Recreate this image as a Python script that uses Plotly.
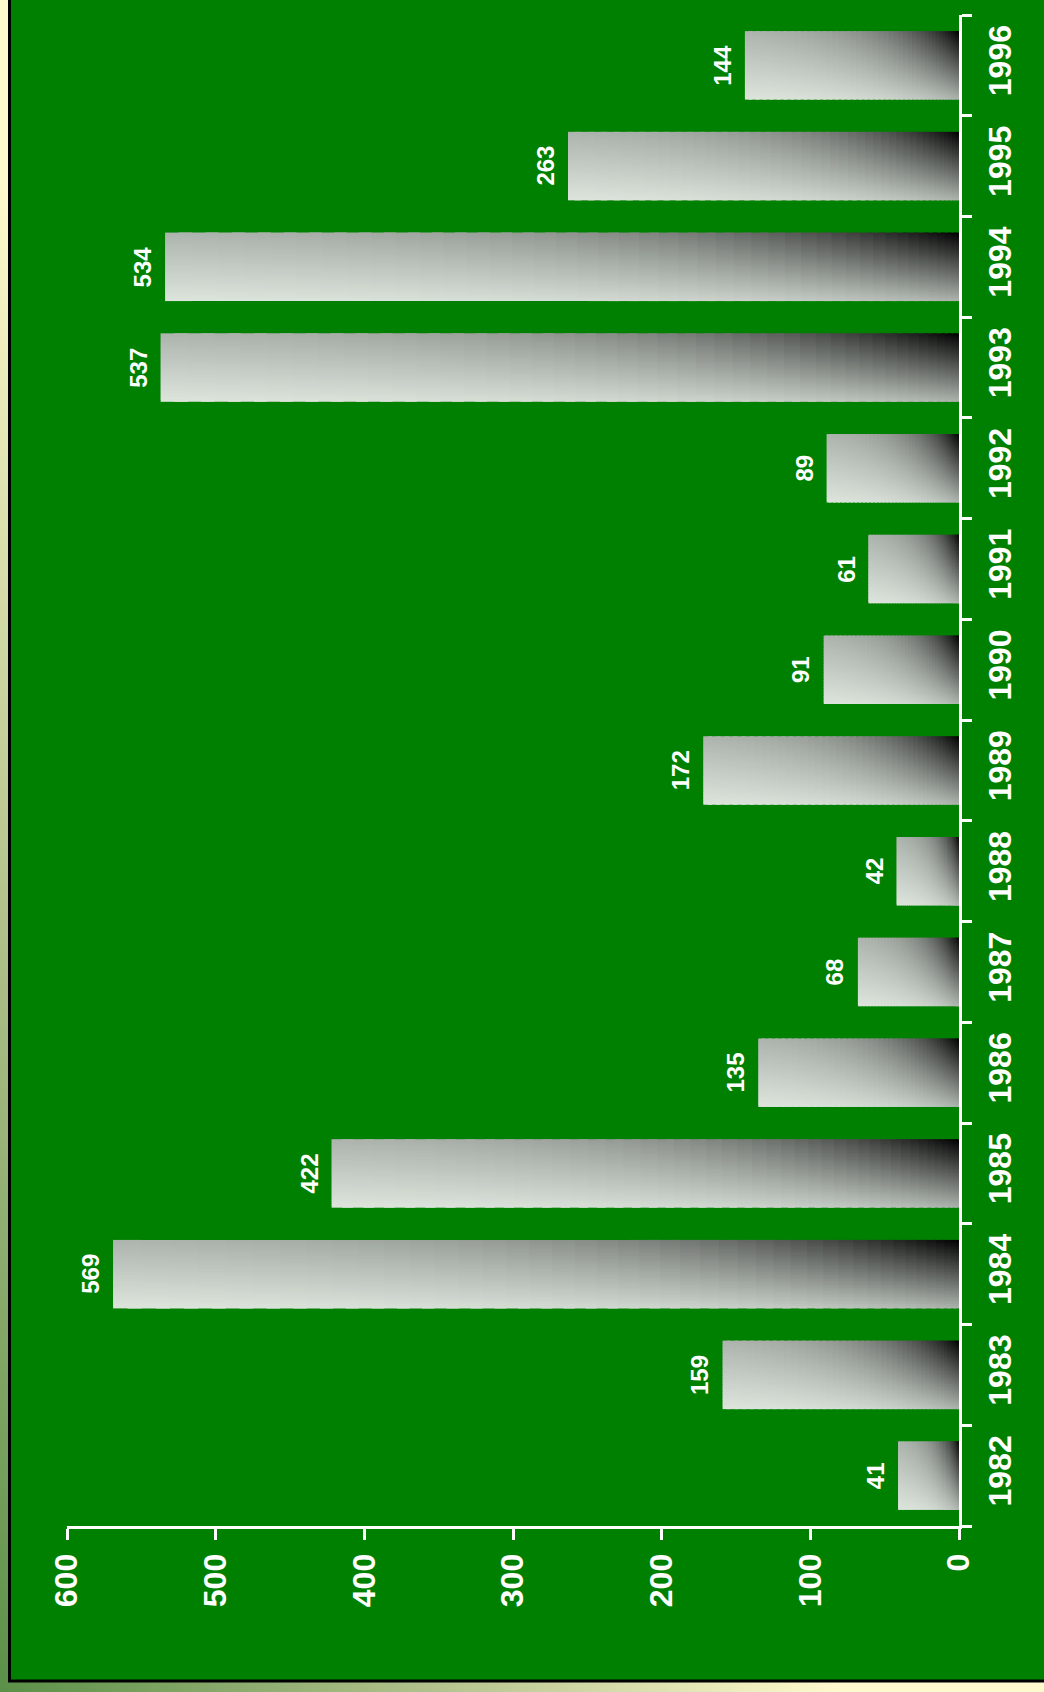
import base64
import math
import plotly.graph_objects as go

# Annual totals, 1982-1996
years = ["1982", "1983", "1984", "1985", "1986", "1987", "1988", "1989",
         "1990", "1991", "1992", "1993", "1994", "1995", "1996"]
values = [41, 159, 569, 422, 135, 68, 42, 172, 91, 61, 89, 537, 534, 263, 144]
value_ticks = [0, 100, 200, 300, 400, 500, 600]

FONT = "Arial, 'Liberation Sans', sans-serif"
W, H = 1044, 1692
ML, MR, MT, MB = 67, 85, 15, 166
PW, PH = W - ML - MR, H - MT - MB

BAR_W = 0.68     # bar thickness in category units
K = 30           # shading slices across the bar
M = 44           # shading slices along the bar


def px(x):
    return (x - ML) / PW


def py(y):
    return (H - MB - y) / PH


def shade(u, s):
    """Colour for a point of a bar: u along the bar from the zero end,
    s across it from the top edge (both 0..1). Darkest at the top corner
    next to the axis, fading towards the far lower corner."""
    g_u = 0.24 + 0.76 * math.exp(-u / 0.32)
    h_s = 1.0 - 0.72 * s
    lum = 0.97 * (1.0 - g_u * h_s)
    g = int(round(lum * 255))
    rb = int(round(lum * 246))
    return f"rgb({rb},{g},{rb})"


# Slice edges along the bar, denser near the axis where the shading changes fast
u_edges = [(j / M) ** 1.5 for j in range(M + 1)]

# Shaded bars: every bar is built from a grid of small cells whose
# extent is derived from its value.
cell_y, cell_x, cell_base, cell_off, cell_w, cell_col = [], [], [], [], [], []
for yr, v in zip(years, values):
    for j in range(M):
        u0, u1 = u_edges[j], u_edges[j + 1]
        u2 = u_edges[j + 2] if j + 2 <= M else u1
        u_end = u1 + 0.5 * (u2 - u1)
        for k in range(K):
            s = 1.0 - (k + 0.5) / K
            cell_y.append(yr)
            cell_base.append(v * u0)
            cell_x.append(v * (u_end - u0))
            cell_off.append(-BAR_W / 2 + k * BAR_W / K)
            cell_w.append(BAR_W / K * (1.5 if k < K - 1 else 1.0))
            cell_col.append(shade(0.5 * (u0 + u1), s))

fig = go.Figure()
fig.add_trace(go.Bar(
    orientation="h", y=cell_y, x=cell_x, base=cell_base,
    offset=cell_off, width=cell_w,
    marker=dict(color=cell_col, line=dict(width=0)),
    hoverinfo="skip", showlegend=False,
))
# Full bars (transparent) for hover
fig.add_trace(go.Bar(
    orientation="h", y=years, x=values, width=BAR_W,
    marker=dict(color="rgba(0,0,0,0)", line=dict(width=0)),
    showlegend=False,
    hovertemplate="%{y}: %{x}<extra></extra>",
))

# Value labels just beyond the end of each bar (y given as category index)
annotations = [
    dict(x=v, y=i, xref="x", yref="y", text=str(v), showarrow=False,
         textangle=-90, xanchor="right", yanchor="middle", xshift=-7,
         font=dict(family=FONT, size=24, color="white", weight="bold"))
    for i, v in enumerate(values)
]

# Backdrop: shaded frame behind a green panel with a black edge
svg = (
    "<svg xmlns='http://www.w3.org/2000/svg' width='1044' height='1692' "
    "viewBox='0 0 1044 1692' preserveAspectRatio='none'>"
    "<defs><linearGradient id='g' gradientUnits='userSpaceOnUse' "
    "x1='0' y1='1692' x2='643' y2='1336'>"
    "<stop offset='0' stop-color='#5a9048'/>"
    "<stop offset='0.5' stop-color='#b0c08a'/>"
    "<stop offset='1' stop-color='#fffacd'/>"
    "</linearGradient></defs>"
    "<rect width='1044' height='1692' fill='url(#g)'/></svg>"
)
svg_uri = "data:image/svg+xml;base64," + base64.b64encode(svg.encode()).decode()

fig.update_layout(
    width=W, height=H,
    margin=dict(l=ML, r=MR, t=MT, b=MB, pad=0, autoexpand=False),
    paper_bgcolor="#008000",
    plot_bgcolor="rgba(0,0,0,0)",
    barmode="overlay",
    font=dict(family=FONT, color="white"),
    annotations=annotations,
    images=[dict(
        source=svg_uri, xref="paper", yref="paper",
        x=px(0), y=py(0), sizex=W / PW, sizey=H / PH,
        xanchor="left", yanchor="top", sizing="stretch", layer="below",
    )],
    shapes=[dict(
        type="rect", xref="paper", yref="paper",
        x0=px(9.5), x1=px(1080), y0=py(1681), y1=py(-30),
        fillcolor="#008000", line=dict(color="black", width=3), layer="below",
    )],
    xaxis=dict(
        range=[600, 0], tickvals=value_ticks, ticktext=[str(t) for t in value_ticks],
        showgrid=False, zeroline=False,
        showline=True, linecolor="white", linewidth=3,
        ticks="outside", ticklen=11, tickwidth=3, tickcolor="white",
        tickangle=-90, ticklabelstandoff=1,
        tickfont=dict(family=FONT, size=32, color="white", weight="bold"),
        fixedrange=True, automargin=False,
    ),
    yaxis=dict(
        type="category", categoryorder="array", categoryarray=years,
        range=[-0.5, len(years) - 0.5],
        side="right", showgrid=False, zeroline=False,
        showline=True, linecolor="white", linewidth=3,
        ticks="outside", ticklen=10, tickwidth=3, tickcolor="white",
        tickson="boundaries", tickangle=-90, ticklabelstandoff=11,
        tickfont=dict(family=FONT, size=32, color="white", weight="bold"),
        fixedrange=True, automargin=False,
    ),
)

fig.write_html("out.html")
